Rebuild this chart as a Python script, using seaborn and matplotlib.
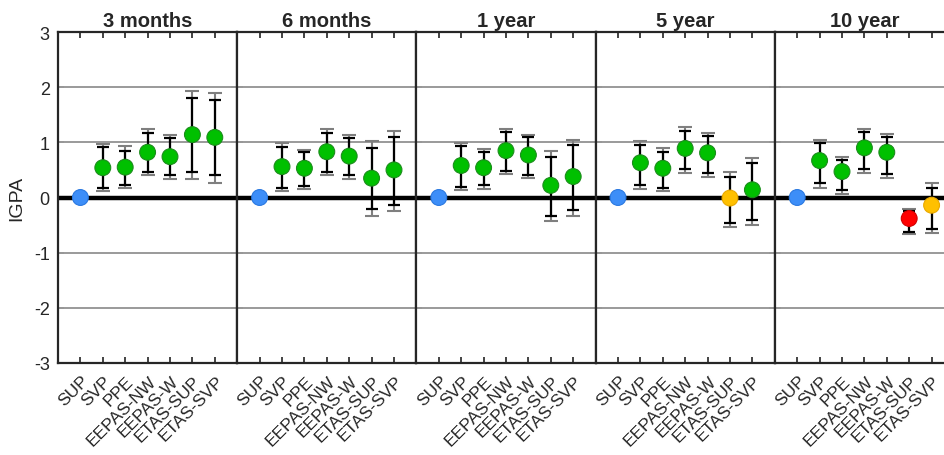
import numpy as np
import pandas as pd
import matplotlib
matplotlib.use("Agg")
import matplotlib.pyplot as plt
import matplotlib.transforms as mtransforms
import seaborn as sns

models = ["SUP", "SVP", "PPE", "EEPAS-NW", "EEPAS-W", "ETAS-SUP", "ETAS-SVP"]
periods = ["3 months", "6 months", "1 year", "5 year", "10 year"]

# IGPA point estimates per horizon
igpa_3m = [0.0, 0.54, 0.55, 0.82, 0.74, 1.14, 1.09]
igpa_6m = [0.0, 0.56, 0.53, 0.83, 0.75, 0.35, 0.50]
igpa_1y = [0.0, 0.58, 0.54, 0.85, 0.77, 0.22, 0.38]
igpa_5y = [0.0, 0.63, 0.53, 0.89, 0.81, -0.01, 0.14]
igpa_10y = [0.0, 0.67, 0.47, 0.90, 0.82, -0.38, -0.14]

# inner (black) interval
inner_lo_3m = [np.nan, 0.17, 0.23, 0.47, 0.41, 0.46, 0.40]
inner_hi_3m = [np.nan, 0.91, 0.85, 1.17, 1.08, 1.81, 1.77]
inner_lo_6m = [np.nan, 0.18, 0.21, 0.47, 0.40, -0.21, -0.13]
inner_hi_6m = [np.nan, 0.92, 0.82, 1.17, 1.08, 0.90, 1.10]
inner_lo_1y = [np.nan, 0.19, 0.22, 0.48, 0.41, -0.33, -0.22]
inner_hi_1y = [np.nan, 0.93, 0.83, 1.18, 1.10, 0.74, 0.95]
inner_lo_5y = [np.nan, 0.22, 0.18, 0.51, 0.44, -0.47, -0.40]
inner_hi_5y = [np.nan, 0.96, 0.82, 1.20, 1.12, 0.38, 0.62]
inner_lo_10y = [np.nan, 0.26, 0.13, 0.51, 0.42, -0.63, -0.58]
inner_hi_10y = [np.nan, 0.98, 0.68, 1.18, 1.10, -0.25, 0.18]

# outer (grey) interval
outer_lo_3m = [np.nan, 0.11, 0.17, 0.41, 0.34, 0.33, 0.26]
outer_hi_3m = [np.nan, 0.97, 0.93, 1.24, 1.14, 1.93, 1.89]
outer_lo_6m = [np.nan, 0.11, 0.15, 0.40, 0.33, -0.33, -0.25]
outer_hi_6m = [np.nan, 0.99, 0.87, 1.24, 1.14, 1.02, 1.21]
outer_lo_1y = [np.nan, 0.13, 0.16, 0.42, 0.35, -0.43, -0.34]
outer_hi_1y = [np.nan, 0.99, 0.88, 1.24, 1.14, 0.84, 1.05]
outer_lo_5y = [np.nan, 0.15, 0.12, 0.45, 0.38, -0.54, -0.50]
outer_hi_5y = [np.nan, 1.02, 0.89, 1.27, 1.17, 0.47, 0.72]
outer_lo_10y = [np.nan, 0.18, 0.07, 0.44, 0.36, -0.66, -0.65]
outer_hi_10y = [np.nan, 1.05, 0.73, 1.24, 1.15, -0.21, 0.26]

# point status (colour category)
status_3m = ["ref", "better", "better", "better", "better", "better", "better"]
status_6m = ["ref", "better", "better", "better", "better", "better", "better"]
status_1y = ["ref", "better", "better", "better", "better", "better", "better"]
status_5y = ["ref", "better", "better", "better", "better", "same", "better"]
status_10y = ["ref", "better", "better", "better", "better", "worse", "same"]

yticks = [-3, -2, -1, 0, 1, 2, 3]

series = [
    (igpa_3m, inner_lo_3m, inner_hi_3m, outer_lo_3m, outer_hi_3m, status_3m),
    (igpa_6m, inner_lo_6m, inner_hi_6m, outer_lo_6m, outer_hi_6m, status_6m),
    (igpa_1y, inner_lo_1y, inner_hi_1y, outer_lo_1y, outer_hi_1y, status_1y),
    (igpa_5y, inner_lo_5y, inner_hi_5y, outer_lo_5y, outer_hi_5y, status_5y),
    (igpa_10y, inner_lo_10y, inner_hi_10y, outer_lo_10y, outer_hi_10y, status_10y),
]

face = {"ref": "#3d8ef8", "better": "#00c000", "same": "#ffc000", "worse": "#ff0000"}
edge = {"ref": "#2a78e0", "better": "#1c8c1c", "same": "#e8a800", "worse": "#d00000"}

sns.set_theme(style="white")
plt.rcParams["font.family"] = ["Liberation Sans", "DejaVu Sans"]

fig = plt.figure(figsize=(9.45, 4.56), dpi=100)
W, H = 945.0, 456.0
left_px, top_px, bottom_px, pw = 58.0, 33.0, 364.0, 179.2
offset = mtransforms.ScaledTranslation(6 / 100, -15 / 100, fig.dpi_scale_trans)

for i, (period, (val, ilo, ihi, olo, ohi, st)) in enumerate(zip(periods, series)):
    ax = fig.add_axes([(left_px + i * pw) / W, (H - bottom_px) / H,
                       pw / W, (bottom_px - top_px) / H])
    df = pd.DataFrame({"model": models, "pos": np.arange(1, len(models) + 1),
                       "igpa": val, "ilo": ilo, "ihi": ihi,
                       "olo": olo, "ohi": ohi, "status": st})
    for yv in yticks:
        if yv == 0:
            ax.axhline(0, color="black", lw=3.2, zorder=2)
        else:
            ax.axhline(yv, color="#9a9a9a", lw=1.4, zorder=1)
    d = df.dropna()
    ax.errorbar(d["pos"], d["igpa"], yerr=[d["igpa"] - d["olo"], d["ohi"] - d["igpa"]],
                fmt="none", ecolor="#7f7f7f", elinewidth=1.5, capsize=5, capthick=1.5, zorder=3)
    ax.errorbar(d["pos"], d["igpa"], yerr=[d["igpa"] - d["ilo"], d["ihi"] - d["igpa"]],
                fmt="none", ecolor="black", elinewidth=1.6, capsize=4.6, capthick=1.6, zorder=4)
    sns.scatterplot(data=df, x="pos", y="igpa", hue="status", palette=face,
                    s=130, legend=False, ax=ax, zorder=5, linewidth=0.8)
    ax.collections[-1].set_edgecolor([edge[s] for s in df["status"]])

    ax.set_xlim(0, 8)
    ax.set_ylim(-3, 3)
    ax.set_xticks(df["pos"])
    ax.set_xticklabels([])
    trans = mtransforms.blended_transform_factory(ax.transData, ax.transAxes) + offset
    for p, name in zip(df["pos"], df["model"]):
        ax.text(p, 0, name, transform=trans, rotation=45, ha="right", va="center",
                rotation_mode="anchor", fontsize=12.5, color="#262626", clip_on=False)
    ax.set_yticks(yticks)
    ax.tick_params(axis="y", pad=6)
    ax.tick_params(direction="in", top=True, right=True, bottom=True, left=True,
                   length=4, width=1.2, color="#222222", labelcolor="#262626")
    if i == 0:
        ax.set_yticklabels([str(t) for t in yticks], fontsize=13)
        ax.set_ylabel("IGPA", fontsize=14, color="#262626", labelpad=6)
    else:
        ax.set_yticklabels([])
        ax.set_ylabel("")
    ax.set_xlabel("")
    ax.set_title(period, fontsize=14.5, fontweight="bold", pad=4)
    for sp in ax.spines.values():
        sp.set_color("#262626")
        sp.set_linewidth(1.6)
        sp.set_visible(True)

fig.savefig("out.png", dpi=100)
